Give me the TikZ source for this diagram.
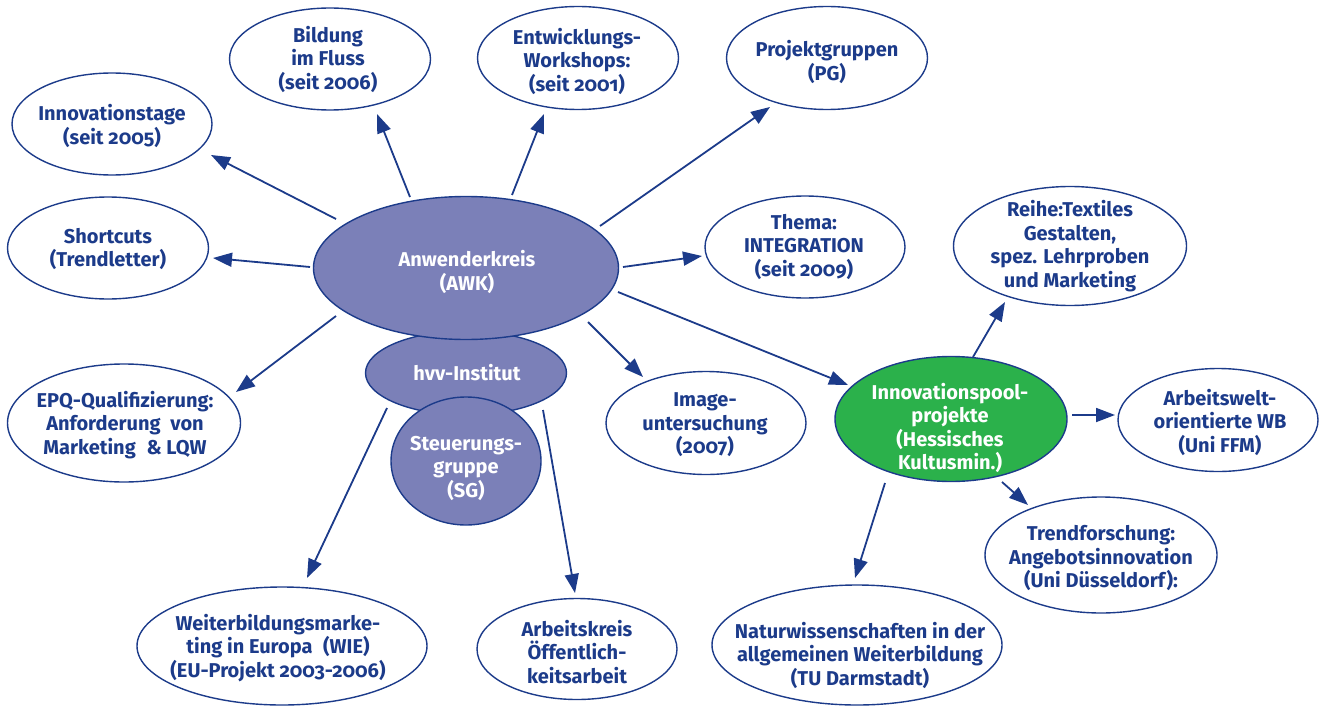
\documentclass[tikz,border=0pt]{standalone}
\usepackage{fontspec}
\setmainfont{Fira Sans}[RawFeature=+onum,BoldFeatures={RawFeature=+onum}]
\usetikzlibrary{shapes.geometric,arrows.meta}
\definecolor{navy}{HTML}{1C3B8A}
\definecolor{lav}{HTML}{7B80B8}
\definecolor{grn}{HTML}{2BB14B}
\tikzset{
  ell/.style={ellipse,draw=navy,line width=1.4pt,fill=white,inner sep=0pt},
  fillell/.style={ell,fill=lav},
  txt/.style={font=\fontsize{20}{23.5}\selectfont\bfseries,text=navy,align=center,inner sep=0pt},
  wtxt/.style={txt,text=white},
  arr/.style={draw=navy,line width=1.8pt,-{Triangle[length=19pt,width=14pt]}}
}
\begin{document}
\begin{tikzpicture}[x=1pt,y=-1pt]
\useasboundingbox (0,0) rectangle (1321,706);
% ellipses
\node[ell,minimum width=200,minimum height=102] (inno) at (112,124) {};
\node[ell,minimum width=201,minimum height=102] (bild) at (330,59) {};
\node[ell,minimum width=201,minimum height=103] (entw) at (578,58) {};
\node[ell,minimum width=201,minimum height=103] (proj) at (827,58) {};
\node[ell,minimum width=201,minimum height=102] (short) at (108,248) {};
\node[ell,minimum width=233,minimum height=118] (epq) at (124,423) {};
\node[ell,minimum width=200,minimum height=102] (thema) at (805,247) {};
\node[ell,minimum width=200,minimum height=103] (image) at (706,423) {};
\node[ell,minimum width=233,minimum height=119] (reihe) at (1070,246) {};
\node[ell,minimum width=200,minimum height=103] (arbw) at (1218,420) {};
\node[ell,minimum width=232,minimum height=116] (trend) at (1101,555) {};
\node[ell,minimum width=290,minimum height=118] (weit) at (282,646) {};
\node[ell,minimum width=200,minimum height=101] (arbk) at (577,649) {};
\node[ell,minimum width=290,minimum height=120] (natur) at (857,645) {};
\node[fillell,minimum width=201,minimum height=84] (hvv) at (466,373) {};
\node[fillell,minimum width=305,minimum height=143] (awk) at (466,268) {};
\node[fillell,minimum width=150,minimum height=128] (sg) at (466,461) {};
\node[ell,fill=grn,minimum width=232,minimum height=125] (pool) at (951,419) {};
% texts
\node[txt] at (112,126) {Innovationstage\\(seit 2005)};
\node[txt] at (328,59) {Bildung\\im Fluss\\(seit 2006)};
\node[txt] at (577,61) {Entwicklungs-\\Workshops:\\(seit 2001)};
\node[txt] at (827,62) {Projektgruppen\\(PG)};
\node[txt] at (108,249) {Shortcuts\\(Trendletter)};
\node[txt] at (125,425) {EPQ-Qualifizierung:\\Anforderung\hspace{0.25em} von\\Marketing\hspace{0.3em} \& LQW};
\node[txt] at (804,247) {Thema:\\INTEGRATION\\(seit 2009)};
\node[txt] at (705,425) {Image-\\untersuchung\\(2007)};
\node[wtxt] at (467,272) {Anwenderkreis\\(AWK)};
\node[wtxt] at (467,373) {hvv-Institut};
\node[wtxt] at (466,468) {Steuerungs-\\gruppe\\(SG)};
\node[wtxt] at (950,428) {Innovationspool-\\projekte\\(Hessisches\\Kultusmin.)};
\node[txt] at (1070,246) {Reihe:Textiles\\Gestalten,\\spez. Lehrproben\\und Marketing};
\node[txt] at (1220,422) {Arbeitswelt-\\orientierte WB\\(Uni FFM)};
\node[txt] at (1101,558) {Trendforschung:\\Angebotsinnovation\\(Uni Düsseldorf):};
\node[txt] at (278,648) {Weiterbildungsmarke-\\ting in Europa\hspace{0.3em} (WIE)\\(EU-Projekt 2003-2006)};
\node[txt] at (577,652) {Arbeitskreis\\Öffentlich-\\keitsarbeit};
\node[txt] at (860,655) {Naturwissenschaften in der\\allgemeinen Weiterbildung\\(TU Darmstadt)};
% arrows
\draw[arr] ([shift={(-130,-49)}]awk.center) -- ([shift={(99,31)}]inno.center);
\draw[arr] ([shift={(-56,-71)}]awk.center) -- ([shift={(47,55)}]bild.center);
\draw[arr] ([shift={(46,-73)}]awk.center) -- ([shift={(-34,56)}]entw.center);
\draw[arr] ([shift={(134,-42)}]awk.center) -- ([shift={(-57,49)}]proj.center);
\draw[arr] ([shift={(-156,-1)}]awk.center) -- ([shift={(105,10)}]short.center);
\draw[arr] ([shift={(-130,48)}]awk.center) -- ([shift={(112,-31)}]epq.center);
\draw[arr] ([shift={(157,-1)}]awk.center) -- ([shift={(-103,9)}]thema.center);
\draw[arr] ([shift={(122,54)}]awk.center) -- ([shift={(-63,-46)}]image.center);
\draw[arr] ([shift={(152,24)}]awk.center) -- ([shift={(-103,-34)}]pool.center);
\draw[arr] ([shift={(-79,35)}]hvv.center) -- ([shift={(25,-68)}]weit.center);
\draw[arr] ([shift={(77,37)}]hvv.center) -- ([shift={(-2,-56)}]arbk.center);
\draw[arr] ([shift={(22,-62)}]pool.center) -- ([shift={(-65,56)}]reihe.center);
\draw[arr] ([shift={(121,-4)}]pool.center) -- ([shift={(-103,-5)}]arbw.center);
\draw[arr] ([shift={(51,63)}]pool.center) -- ([shift={(-73,-50)}]trend.center);
\draw[arr] ([shift={(-66,64)}]pool.center) -- ([shift={(-2,-67)}]natur.center);
\end{tikzpicture}
\end{document}
